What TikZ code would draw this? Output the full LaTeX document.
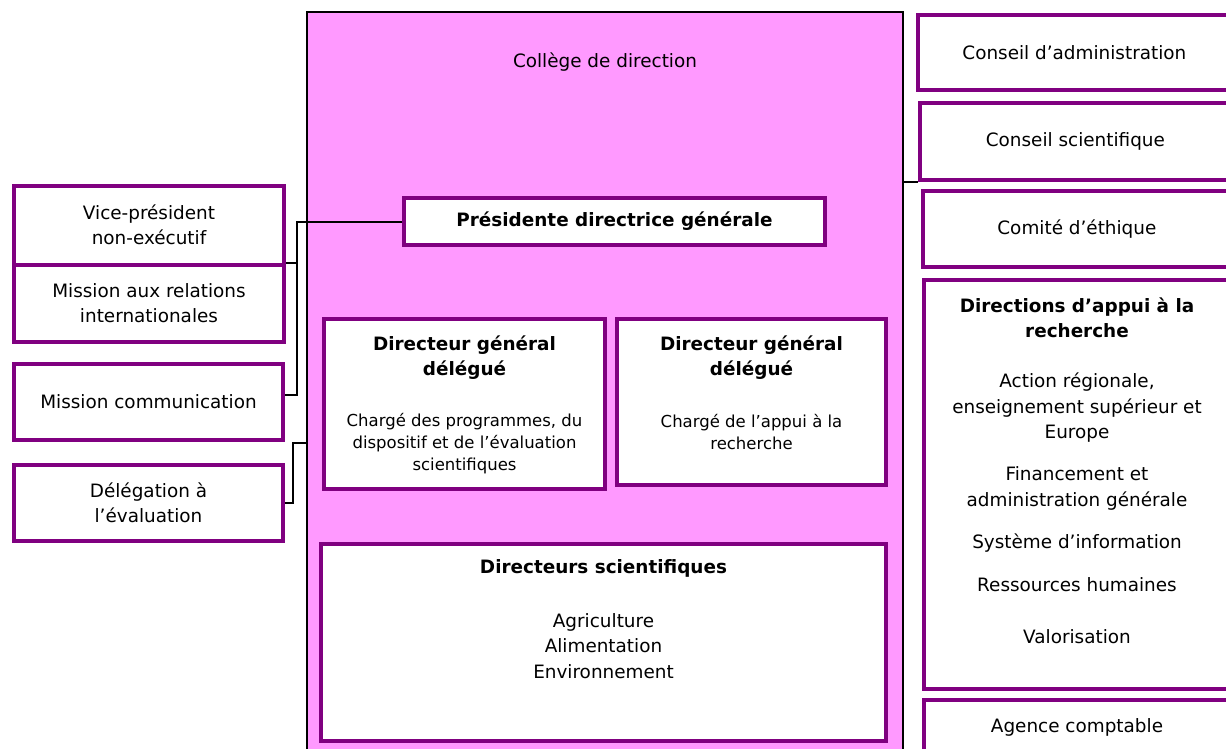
\documentclass[tikz,border=0pt]{standalone}
\usepackage{fontspec}
\setmainfont{DejaVu Sans}
\definecolor{orgpink}{RGB}{255,153,255}
\definecolor{orgpurple}{RGB}{128,0,128}
\tikzset{
  orgbox/.style={draw=orgpurple, line width=4pt, fill=white, inner sep=0pt,
    align=center, font=\fontsize{18.4}{25}\selectfont},
  headtxt/.style={font=\bfseries\fontsize{18.4}{25}\selectfont, align=center},
  bodytxt/.style={font=\fontsize{18.4}{25.5}\selectfont, align=center},
  subtxt/.style={font=\fontsize{16.5}{22}\selectfont, align=center},
  link/.style={line width=2pt},
}
\begin{document}
\begin{tikzpicture}[x=1pt, y=-1pt]
  \useasboundingbox (0,0) rectangle (1226,748);
  % college de direction
  \node[draw, line width=2pt, fill=orgpink, minimum width=596pt, minimum height=758pt] (college) at (605,391) {};
  \node[bodytxt] (collegetitle) at (605,62) {Collège de direction};
  % boxes with centred text
  \foreach \name/\x/\y/\w/\h/\txt in {
    vp/149/225.25/270/78.5/{Vice-président\\non-exécutif},
    mri/149/303.25/270/77.5/{Mission aux relations\\internationales},
    comm/148.5/402/269.5/75.5/{Mission communication},
    deleg/148.5/503/269.5/75.5/{Délégation à\\l’évaluation},
    ca/1074.4/52.5/312.75/75/{Conseil d’administration},
    cs/1075.4/141.5/310.75/77/{Conseil scientifique},
    ce/1076.9/229/307.75/76/{Comité d’éthique}} {
    \node[orgbox, minimum width=\w pt, minimum height=\h pt] (\name) at (\x,\y) {\txt};
  }
  \node[orgbox, font=\bfseries\fontsize{18.4}{25}\selectfont, minimum width=421pt, minimum height=47pt] (pdg) at (614.5,221.5) {Présidente directrice générale};
  % boxes with title and details
  \node[orgbox, minimum width=281pt, minimum height=170pt] (dgd1) at (464.5,404) {};
  \node[orgbox, minimum width=269pt, minimum height=166pt] (dgd2) at (751.5,402) {};
  \node[orgbox, minimum width=565pt, minimum height=197pt] (ds) at (603.5,642.5) {};
  \node[orgbox, minimum width=306.75pt, minimum height=409pt] (dir) at (1077.4,484.5) {};
  \node[orgbox, minimum width=306.75pt, minimum height=70pt] (ag) at (1077.4,734.9) {};
  \node[headtxt] (dgd1head) at (464.5,357.5) {Directeur général\\délégué};
  \node[subtxt] (dgd1sub) at (464.5,444) {Chargé des programmes, du\\dispositif et de l’évaluation\\scientifiques};
  \node[headtxt] (dgd2head) at (751.5,357.5) {Directeur général\\délégué};
  \node[subtxt] (dgd2sub) at (751.5,432.5) {Chargé de l’appui à la\\recherche};
  \node[headtxt] (dshead) at (603.5,568) {Directeurs scientifiques};
  \node[bodytxt] (dslist) at (603.5,646) {Agriculture\\Alimentation\\Environnement};
  \node[headtxt] (dirhead) at (1077,318) {Directions d’appui à la\\recherche};
  \foreach \y/\txt in {
    408/{Action régionale,\\enseignement supérieur et\\Europe},
    488.5/{Financement et\\administration générale},
    543/{Système d’information},
    585/{Ressources humaines},
    637/{Valorisation}} {
    \node[bodytxt] at (1077,\y) {\txt};
  }
  \node[bodytxt] (agtxt) at (1077,727) {Agence comptable};
  % connectors
  \draw[link] (pdg.west) -- ++(-105,0) coordinate (busL) |- ([yshift=7pt]comm.east);
  \draw[link] (mri.north east) -- (mri.north east -| busL);
  \draw[link] ([yshift=-52pt]college.west) -- ++(-13,0) |- (deleg.east);
  \draw[link] (cs.south west) -- (cs.south west -| college.east);
\end{tikzpicture}
\end{document}
